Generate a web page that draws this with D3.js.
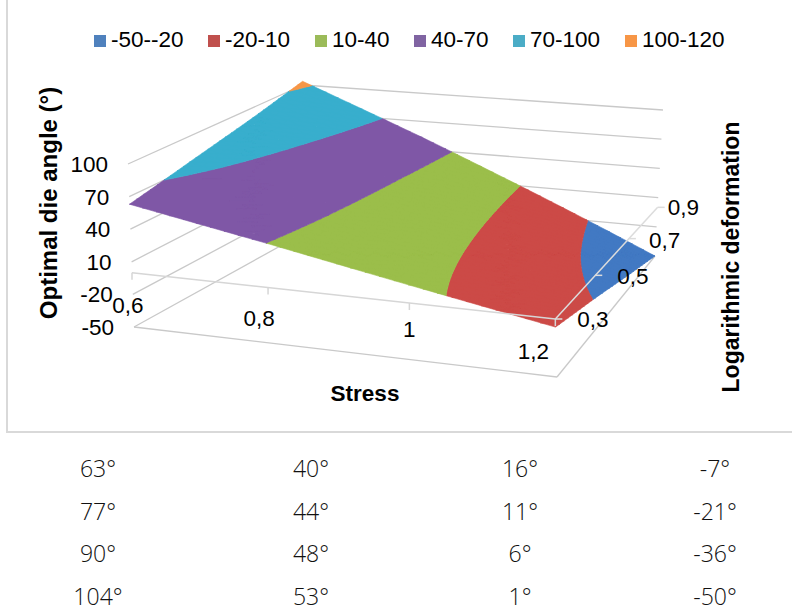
<!DOCTYPE html>
<html><head><meta charset="utf-8">
<script src="https://cdn.jsdelivr.net/npm/d3@7"></script>
<style>html,body{margin:0;padding:0;background:#fff}svg{display:block}</style></head>
<body><svg id="c" width="792" height="612"></svg>
<script>
const stress=[0.6,0.8,1,1.2];
const deformation=[0.3,0.5,0.7,0.9];
const angle03=[63,40,16,-7];
const angle05=[77,44,11,-21];
const angle07=[90,48,6,-36];
const angle09=[104,53,1,-50];
const stressLabels=["0,6","0,8","1","1,2"];
const deformationLabels=["0,3","0,5","0,7","0,9"];
const zTicks=[-50,-20,10,40,70,100];
const bandNames=["-50--20","-20-10","10-40","40-70","70-100","100-120"];
const bandEdges=[-50,-20,10,40,70,100,120];
const surfaceColors=["#4279c3","#cc4a47","#9bbe4a","#7f57a6","#38aecd","#f79646"];
const legendColors=["#4f81bd","#c0504d","#9bbb59","#8064a2","#4bacc6","#f79646"];
const grid=[angle03,angle05,angle07,angle09];
const tableRows=[["63°","40°","16°","-7°"],["77°","44°","11°","-21°"],["90°","48°","6°","-36°"],["104°","53°","1°","-50°"]];

const svg=d3.select("#c");
const sans="'Liberation Sans',Arial,sans-serif";

// perspective frame: corners of the plot box at the lowest and highest z tick
const bottom=[[134,327],[557,377],[655,256],[320,224]];
const top_=[[128,164],[552,203],[663,110],[303,85]];
function homography(q){
  const [[x0,y0],[x1,y1],[x2,y2],[x3,y3]]=q;
  const dx1=x1-x2,dx2=x3-x2,sx=x0-x1+x2-x3,dy1=y1-y2,dy2=y3-y2,sy=y0-y1+y2-y3;
  const d=dx1*dy2-dx2*dy1;
  const g=(sx*dy2-dx2*sy)/d,h=(dx1*sy-sx*dy1)/d;
  const a=x1-x0+g*x1,b=x3-x0+h*x3,c=y1-y0+g*y1,e=y3-y0+h*y3;
  return (u,v)=>{const w=g*u+h*v+1;return [(a*u+b*v+x0)/w,(c*u+e*v+y0)/w];};
}
const hB=homography(bottom),hT=homography(top_);
const u=d3.scaleLinear().domain(stress).range([0,0.34,0.674,1]);
const v=d3.scaleLinear().domain([0.3,0.9]).range([0,1]);
const w=d3.scaleLinear().domain([-50,100]).range([0,1]);
function P(s,d,z){
  const a=hB(u(s),v(d)),b=hT(u(s),v(d)),t=w(z);
  return [a[0]+(b[0]-a[0])*t,a[1]+(b[1]-a[1])*t];
}
const line=d3.line();
const G="#c9c9c9";
function seg(a,b,col,sw){svg.append("path").attr("d",line([a,b])).attr("fill","none").attr("stroke",col||G).attr("stroke-width",sw||1.3);}

// frame
svg.append("path").attr("d",line([[7,0],[7,432],[792,432]])).attr("fill","none").attr("stroke","#d9d9d9").attr("stroke-width",2);

// walls
const sMin=stress[0],sMax=stress[3],dMin=deformation[0],dMax=deformation[3];
zTicks.forEach(z=>{
  seg(P(sMin,dMin,z),P(sMin,dMax,z));
  seg(P(sMin,dMax,z),P(sMax,dMax,z));
});
// floor
seg(P(sMin,dMin,-50),P(sMax,dMin,-50));
seg(P(sMax,dMin,-50),P(sMax,dMax,-50));

// surface: bilinear patches of the table, cut into the legend's bands
function clip(poly,val,keepAbove){
  const out=[];
  poly.forEach((p,i)=>{
    const q=poly[(i+1)%poly.length];
    const pin=keepAbove?p[2]>=val:p[2]<=val, qin=keepAbove?q[2]>=val:q[2]<=val;
    if(pin) out.push(p);
    if(pin!==qin){const t=(val-p[2])/(q[2]-p[2]);out.push([p[0]+(q[0]-p[0])*t,p[1]+(q[1]-p[1])*t,val]);}
  });
  return out;
}
const subdiv=10, tris=[];
for(let j=0;j<3;j++)for(let i=0;i<3;i++){
  const z=(a,b)=>{const z00=grid[j][i],z10=grid[j][i+1],z01=grid[j+1][i],z11=grid[j+1][i+1];
    return z00*(1-a)*(1-b)+z10*a*(1-b)+z01*(1-a)*b+z11*a*b;};
  const c=(a,b)=>[stress[i]+(stress[i+1]-stress[i])*a,deformation[j]+(deformation[j+1]-deformation[j])*b,z(a,b)];
  for(let m=0;m<subdiv;m++)for(let n=0;n<subdiv;n++){
    const a0=m/subdiv,a1=(m+1)/subdiv,b0=n/subdiv,b1=(n+1)/subdiv;
    tris.push([c(a0,b0),c(a1,b0),c(a1,b1)]);
    tris.push([c(a0,b0),c(a1,b1),c(a0,b1)]);
  }
}
bandNames.forEach((n,b)=>{
  const lo=bandEdges[b],hi=bandEdges[b+1];
  const pieces=[];
  tris.forEach(t=>{
    let pl=clip(t,lo,true); if(pl.length) pl=clip(pl,hi,false);
    if(pl.length>=3) pieces.push(line(pl.map(p=>P(p[0],p[1],p[2])))+"Z");
  });
  svg.append("path").attr("d",pieces.join("")).attr("fill",surfaceColors[b]).attr("stroke",surfaceColors[b]).attr("stroke-width",0.6);
});

// axis plane at z = 0
seg(P(sMin,dMin,0),P(sMax,dMin,0),"#d6d6d6",1.5);
seg(P(sMax,dMin,0),P(sMax,dMax,0),"#dcdcdc",1.5);
stress.forEach(s=>{const p=P(s,dMin,0);seg(p,[p[0],p[1]+7],"#d6d6d6",1.5);});
deformation.forEach(d=>{const p=P(sMax,d,0);seg(p,[p[0]+7,p[1]],"#dcdcdc",1.5);});

// tick labels
const tf=22.5;
function txt(x,y,s,o){o=o||{};const e=svg.append("text").attr("x",x).attr("y",y).text(s).attr("font-family",sans)
  .attr("font-size",o.size||tf).attr("fill","#000").attr("text-anchor",o.anchor||"middle");
  if(o.bold)e.attr("font-weight","bold"); if(o.rot)e.attr("transform",`rotate(${o.rot} ${x} ${y})`);return e;}
zTicks.forEach(z=>{const p=P(sMin,dMin,z);txt(p[0]-20,p[1]+8,z,{anchor:"end"});});
const stressOff=[[-4,40],[-9,38],[0,34],[-22,40]];
stress.forEach((s,i)=>{const p=P(s,dMin,0);txt(p[0]+stressOff[i][0],p[1]+stressOff[i][1],stressLabels[i]);});
const defOff=[[22,8],[22,9],[20,9],[10,8]];
deformation.forEach((d,i)=>{const p=P(sMax,d,0);txt(p[0]+defOff[i][0],p[1]+defOff[i][1],deformationLabels[i],{anchor:"start"});});

// titles
txt(57,203,"Optimal die angle (°)",{bold:true,size:24,rot:-90});
txt(365,401,"Stress",{bold:true,size:22.5});
txt(739,257,"Logarithmic deformation",{bold:true,size:23,rot:-90});

// legend
const legX=[94,208,315,414,513,625];
bandNames.forEach((n,i)=>{
  svg.append("rect").attr("x",legX[i]).attr("y",35).attr("width",12).attr("height",12).attr("fill",legendColors[i]);
  txt(legX[i]+17,47,n,{anchor:"start",size:22.5});
});

// table
const colX=d3.scaleOrdinal().domain(d3.range(4)).range([98,311,520,715]);
const rowY=d3.scalePoint().domain(d3.range(4)).range([477,604.5]);
tableRows.forEach((r,j)=>r.forEach((t,i)=>{
  svg.append("text").attr("transform",`translate(${colX(i)},${rowY(j)}) scale(0.96,1)`).text(t).attr("text-anchor","middle")
   .attr("font-family","'Open Sans',sans-serif").attr("font-weight",300).attr("font-size",24).attr("fill","#111");
}));
</script></body></html>
